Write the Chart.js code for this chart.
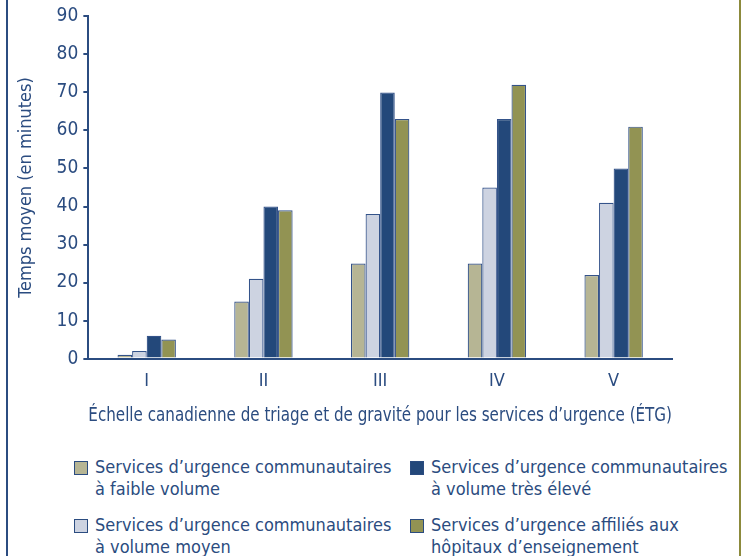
<!DOCTYPE html>
<html>
<head>
<meta charset="utf-8">
<script src="https://cdn.jsdelivr.net/npm/chart.js@4"></script>
<style>
  body { margin: 0; background: #fff; }
  #wrap { position: relative; width: 745px; height: 556px; overflow: hidden;
          font-family: 'Liberation Sans Narrow', 'DejaVu Sans Condensed', sans-serif; color: #2b4c80; }
  #edgeL { position: absolute; left: 6px; top: 0; width: 2px; height: 556px; background: #2b4c80; }
  #edgeR { position: absolute; left: 739px; top: 0; width: 2px; height: 556px; background: #8c8a3c; }
  #chart { position: absolute; left: 0; top: 0; }
  #legend { position: absolute; left: 74px; top: 456px; width: 660px; }
  .item { position: absolute; font-size: 18px; line-height: 22px; }
  .box { position: absolute; left: 0; top: 5px; width: 12px; height: 12px; border: 1px solid #2b4c80; }
  .txt { position: absolute; left: 21px; top: 0; white-space: nowrap; }
</style>
</head>
<body>
<div id="wrap">
  <div id="edgeL"></div>
  <div id="edgeR"></div>
  <canvas id="chart" width="745" height="427"></canvas>
  <div id="legend"></div>
</div>
<script>
// Catégories ÉTG
const categories = ['I', 'II', 'III', 'IV', 'V'];

// Temps moyen (en minutes) par type de service
const faibleVolume = [1, 15, 25, 25, 22];
const volumeMoyen = [2, 21, 38, 45, 41];
const volumeTresEleve = [6, 40, 70, 63, 50];
const affiliesHopitaux = [5, 39, 63, 72, 61];

const seriesLabels = [
  ['Services d\u2019urgence communautaires', '\u00e0 faible volume'],
  ['Services d\u2019urgence communautaires', '\u00e0 volume moyen'],
  ['Services d\u2019urgence communautaires', '\u00e0 volume tr\u00e8s \u00e9lev\u00e9'],
  ['Services d\u2019urgence affili\u00e9s aux', 'h\u00f4pitaux d\u2019enseignement']
];
const yTicks = [0, 10, 20, 30, 40, 50, 60, 70, 80, 90];

const colors = ['#b6b594', '#cdd3e1', '#23487a', '#929353'];
const textColor = '#2b4c80';
const fontFamily = "'Liberation Sans Narrow', 'DejaVu Sans Condensed', sans-serif";

const seriesData = [faibleVolume, volumeMoyen, volumeTresEleve, affiliesHopitaux];

const datasets = seriesData.map((d, i) => ({
  label: seriesLabels[i].join(' '),
  data: d,
  backgroundColor: colors[i],
  borderColor: '#34538a',
  borderWidth: 1.2,
  categoryPercentage: 0.5,
  barPercentage: 1.0
}));

new Chart(document.getElementById('chart'), {
  type: 'bar',
  data: { labels: categories, datasets: datasets },
  options: {
    responsive: false,
    animation: false,
    layout: { padding: { left: 16, right: 73, top: 8, bottom: 0 } },
    plugins: { legend: { display: false }, tooltip: { enabled: false } },
    scales: {
      x: {
        grid: { display: false, drawTicks: false },
        border: { color: textColor, width: 2 },
        ticks: { color: textColor, font: { family: fontFamily, size: 18 }, padding: 12 },
        title: {
          display: true,
          text: '\u00c9chelle canadienne de triage et de gravit\u00e9 pour les services d\u2019urgence (\u00c9TG)',
          color: textColor,
          font: { family: fontFamily, size: 19 },
          padding: { top: 0, bottom: 0 }
        }
      },
      y: {
        min: 0,
        max: 90,
        afterBuildTicks: (scale) => { scale.ticks = yTicks.map(v => ({ value: v })); },
        grid: { display: true, drawOnChartArea: false, drawTicks: true, tickLength: 5, color: textColor, lineWidth: 2 },
        border: { color: textColor, width: 2 },
        ticks: { color: textColor, font: { family: fontFamily, size: 19 }, padding: 5 },
        title: {
          display: true,
          text: 'Temps moyen (en minutes)',
          color: textColor,
          font: { family: fontFamily, size: 18 },
          padding: { top: 0, bottom: 14 }
        }
      }
    }
  }
});

// Légende sur deux colonnes
const legend = document.getElementById('legend');
const positions = [[0, 0], [0, 58], [336, 0], [336, 58]];
seriesLabels.forEach((lines, i) => {
  const item = document.createElement('div');
  item.className = 'item';
  item.style.left = positions[i][0] + 'px';
  item.style.top = positions[i][1] + 'px';
  item.innerHTML = '<div class="box" style="background:' + colors[i] + '"></div>' +
    '<div class="txt">' + lines.join('<br>') + '</div>';
  legend.appendChild(item);
});
</script>
</body>
</html>
